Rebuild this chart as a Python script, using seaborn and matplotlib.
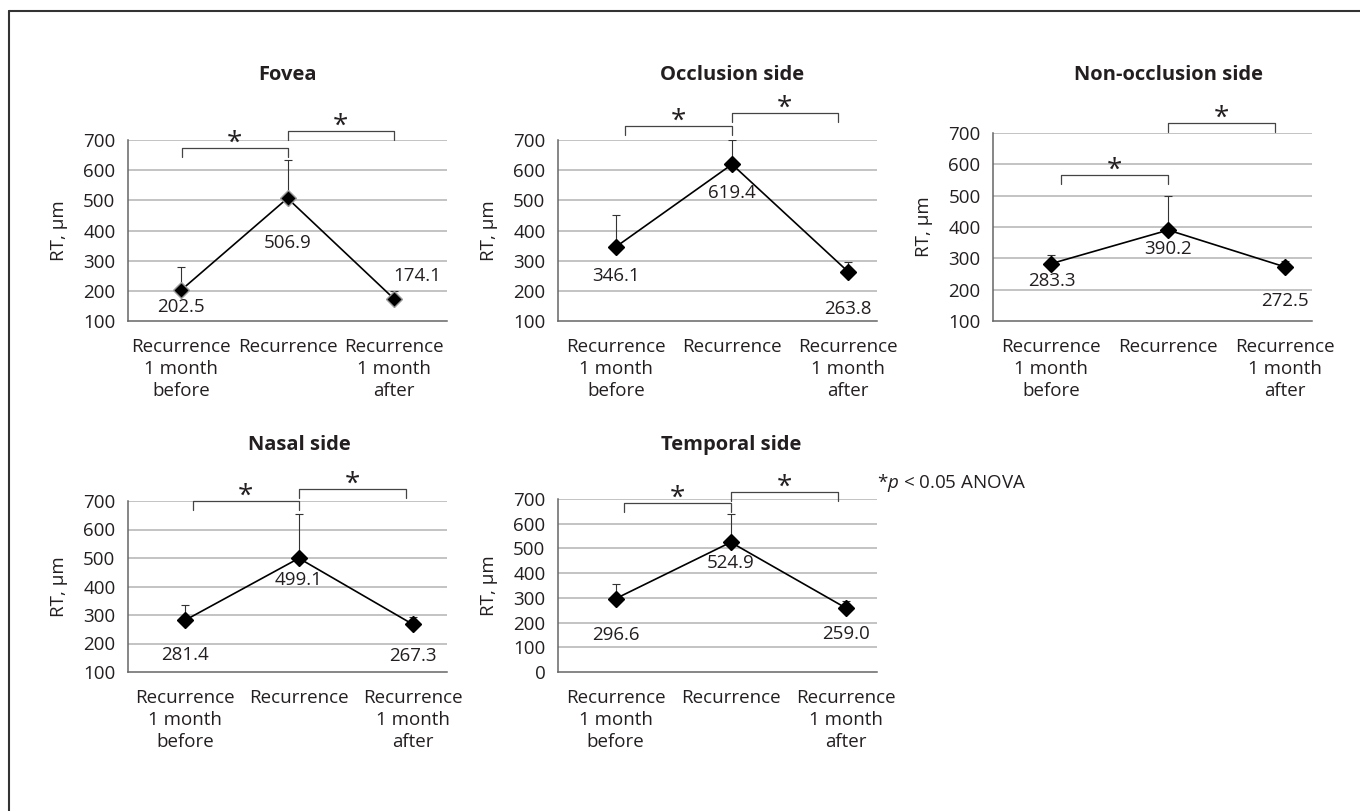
import numpy as np
import matplotlib.pyplot as plt
import pandas as pd
import seaborn as sns
from matplotlib.lines import Line2D
from matplotlib.transforms import blended_transform_factory

# Data (retinal thickness, µm)
categories = ['Recurrence\n1 month\nbefore', 'Recurrence', 'Recurrence\n1 month\nafter']
titles = ['Fovea', 'Occlusion side', 'Non-occlusion side', 'Nasal side', 'Temporal side']

fovea = [202.5, 506.9, 174.1]
occlusion = [346.1, 619.4, 263.8]
non_occlusion = [283.3, 390.2, 272.5]
nasal = [281.4, 499.1, 267.3]
temporal = [296.6, 524.9, 259.0]

fovea_sd = [78, 128, 24]
occlusion_sd = [104, 80, 32]
non_occlusion_sd = [28, 109, 19]
nasal_sd = [54, 155, 26]
temporal_sd = [60, 115, 28]

# heights of significance brackets: (before vs recurrence, recurrence vs after)
fovea_sig = [673, 730]
occlusion_sig = [746, 789]
non_occlusion_sig = [566, 732]
nasal_sig = [700, 742]
temporal_sig = [684, 728]

values = [fovea, occlusion, non_occlusion, nasal, temporal]
sds = [fovea_sd, occlusion_sd, non_occlusion_sd, nasal_sd, temporal_sd]
sigs = [fovea_sig, occlusion_sig, non_occlusion_sig, nasal_sig, temporal_sig]

# Layout (pixels): left, top, width, height ; x right limit ; y bottom limit
W, H = 1360, 811
panels = [
    dict(rect=(128, 140, 319, 181), xr=2.5, ymin=100, title_y=75,
         lab=[(0, -17), (0, -45), (23, 23)], ins=(0.01, 0.0), edge='#9a9a9a'),
    dict(rect=(558, 140, 319, 181), xr=2.25, ymin=100, title_y=75,
         lab=[(0, -29), (0, -29), (0, -37)], ins=(0.08, 0.09), edge='black'),
    dict(rect=(993, 133, 319, 188), xr=2.23, ymin=100, title_y=75,
         lab=[(0, -17), (0, -19), (0, -34)], ins=(0.08, 0.09), edge='black'),
    dict(rect=(128, 501, 319, 171), xr=2.3, ymin=100, title_y=445,
         lab=[(0, -35), (0, -22), (0, -32)], ins=(0.07, 0.06), edge='black'),
    dict(rect=(558, 499, 319, 173), xr=2.27, ymin=0, title_y=445,
         lab=[(0, -36), (0, -21), (0, -26)], ins=(0.07, 0.07), edge='black'),
]

sns.set_style('white')
plt.rcParams['font.family'] = ['Open Sans', 'DejaVu Sans']
plt.rcParams['mathtext.fontset'] = 'custom'
plt.rcParams['mathtext.it'] = 'Open Sans:italic'
plt.rcParams['mathtext.rm'] = 'Open Sans'

txt = '#231f20'
fs = 13.5
px = 0.72  # points per pixel at dpi 100

fig = plt.figure(figsize=(W / 100, H / 100), dpi=100)

for vals, sd, sig, title, p in zip(values, sds, sigs, titles, panels):
    l, t, w, h = p['rect']
    ax = fig.add_axes([l / W, (H - t - h) / H, w / W, h / H])
    df = pd.DataFrame({'x': [0, 1, 2], 'RT': vals})

    ax.errorbar(df['x'], df['RT'], yerr=[[0, 0, 0], sd], fmt='none',
                ecolor='#333333', elinewidth=0.8, capsize=3, capthick=0.8, zorder=2)
    sns.lineplot(data=df, x='x', y='RT', ax=ax, color='black', linewidth=1.2,
                 marker='D', markersize=8.5, markerfacecolor='black',
                 markeredgecolor=p['edge'], markeredgewidth=1.0, zorder=3)

    ax.set_xlim(-0.5, p['xr'])
    ax.set_ylim(p['ymin'], 700)
    ax.set_yticks(np.arange(p['ymin'], 701, 100))
    ax.set_xticks([0, 1, 2])
    ax.set_xticklabels(categories)
    for lbl in ax.get_xticklabels():
        lbl.set_linespacing(1.3)
    ax.set_xlabel('')
    ax.set_ylabel('RT, µm', fontsize=fs, color=txt, labelpad=11)
    ax.tick_params(axis='both', labelsize=fs, colors='#555555', labelcolor=txt,
                   direction='out', length=6, width=1.0, pad=3)
    ax.tick_params(axis='x', pad=6)
    for yv in ax.get_yticks()[1:]:
        ax.axhline(yv, color='#b3b3b3', linewidth=1.1, zorder=0)
    for s in ['top', 'right']:
        ax.spines[s].set_visible(False)
    for s in ['left', 'bottom']:
        ax.spines[s].set_color('#666666')
        ax.spines[s].set_linewidth(1.1)

    # value labels
    for x, v, (dx, dy) in zip(df['x'], vals, p['lab']):
        ax.annotate(f'{v:.1f}', (x, v), xytext=(dx * px, dy * px),
                    textcoords='offset points', ha='center', va='center',
                    fontsize=fs, color=txt)

    # significance brackets
    leg = 9 * (700 - p['ymin']) / h
    a, b = p['ins']
    for (x0, x1), yb in zip([(0 + a, 1), (1, 2 - b)], sig):
        ax.plot([x0, x0, x1, x1], [yb - leg, yb, yb, yb - leg], color='#444444',
                linewidth=0.9, clip_on=False, zorder=4)
        ax.annotate('*', ((x0 + x1) / 2, yb), xytext=(0, -3 * px),
                    textcoords='offset points', ha='center', va='baseline',
                    fontsize=20, color=txt, annotation_clip=False)

    # panel title centered over the middle category
    tr = blended_transform_factory(ax.transData, fig.transFigure)
    ax.text(1, 1 - p['title_y'] / H, title, transform=tr, ha='center', va='center',
            fontsize=14.5, fontweight='bold', color=txt)

fig.text(877 / W, 1 - 483 / H, r'*$\it{p}$ < 0.05 ANOVA', fontsize=fs,
         color=txt, ha='left', va='center')

# frame of the figure panel
fig.add_artist(Line2D([9 / W, 9 / W], [0, 1 - 11 / H], color='#333333', linewidth=1.5))
fig.add_artist(Line2D([9 / W, 1], [1 - 11 / H, 1 - 11 / H], color='#333333', linewidth=1.5))

plt.savefig('out.png', dpi=100)
